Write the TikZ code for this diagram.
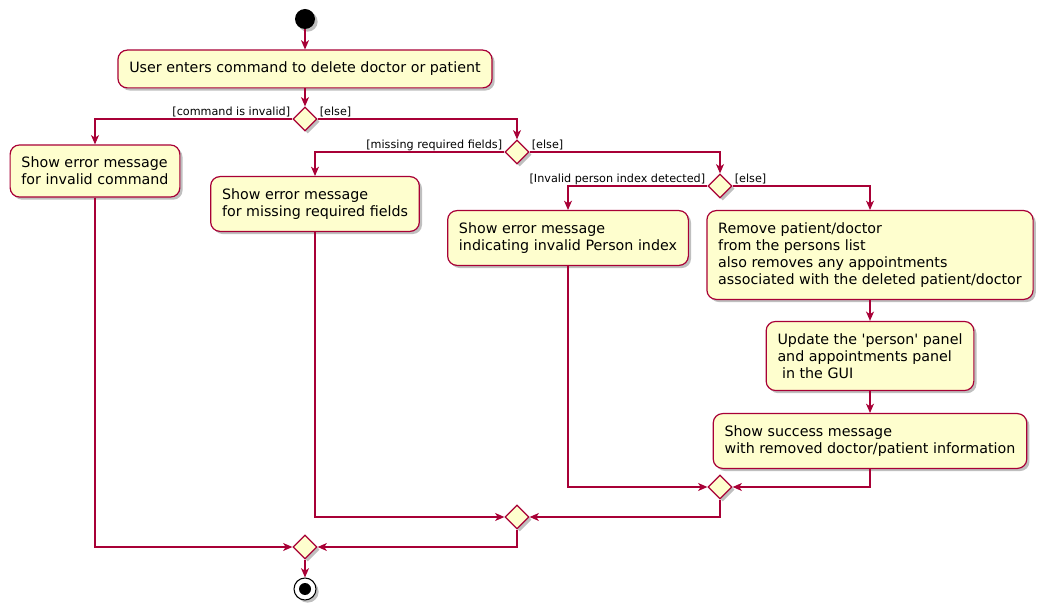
\documentclass[tikz,border=0pt]{standalone}
\usepackage{fontspec}
\setmainfont{DejaVu Sans}
\usetikzlibrary{arrows.meta,shapes.geometric,shadows}

\definecolor{umlred}{HTML}{A80036}
\definecolor{umlfill}{HTML}{FEFECE}

\tikzset{
  umlshadow/.style={drop shadow={shadow xshift=2pt, shadow yshift=-2pt, opacity=0.25, fill=black}},
  action/.style={draw=umlred, fill=umlfill, rounded corners=7pt, align=left,
    inner xsep=8.5pt, inner ysep=9pt, line width=0.9pt,
    font=\fontsize{10.7}{12.75}\selectfont, umlshadow},
  branch/.style={diamond, draw=umlred, fill=umlfill, line width=0.9pt,
    minimum width=18pt, minimum height=18pt, inner sep=0pt, umlshadow},
  guard/.style={font=\fontsize{8.4}{10}\selectfont, inner xsep=1.5pt, inner ysep=1pt},
  hv/.style={to path={-| (\tikztotarget) \tikztonodes}},
  vh/.style={to path={|- (\tikztotarget) \tikztonodes}}
}

\begin{document}
\begin{tikzpicture}[x=0.75pt,y=-0.75pt]
  \useasboundingbox (0,0) rectangle (1050,616);

  \node[circle, fill=black, minimum size=15pt, inner sep=0pt, umlshadow] (start) at (305,19) {};

  \begin{scope}[every node/.style={action}]
    \node (a1) at (305,69)  {User enters command to delete doctor or patient};
    \node (a2) at (95,171)  {Show error message\\for invalid command};
    \node (a3) at (315,204) {Show error message\\for missing required fields};
    \node (a4) at (568,238) {Show error message\\indicating invalid Person index};
    \node (a5) at (870,255) {Remove patient/doctor\\from the persons list\\also removes any appointments\\associated with the deleted patient/doctor};
    \node (a6) at (870,356) {Update the \textquotesingle person\textquotesingle{} panel\\and appointments panel\\\ in the GUI};
    \node (a7) at (870,441) {Show success message\\with removed doctor/patient information};
  \end{scope}

  \begin{scope}[every node/.style={branch}]
    \node (d1) at (305,119) {};
    \node (d2) at (517,152) {};
    \node (d3) at (720,186) {};
    \node (m1) at (720,487) {};
    \node (m2) at (517,517) {};
    \node (m3) at (305,547) {};
  \end{scope}

  \node[circle, draw=black, fill=white, line width=0.8pt, minimum size=16.5pt, inner sep=0pt, umlshadow] (stop) at (305,589) {};
  \node[circle, fill=black, minimum size=9pt, inner sep=0pt] (stopdot) at (stop) {};

  \begin{scope}[every node/.style={guard}]
    \node[anchor=south east] (g1a) at (d1.west) {[command is invalid]};
    \node[anchor=south west] (g1b) at (d1.east) {[else]};
    \node[anchor=south east] (g2a) at (d2.west) {[missing required fields]};
    \node[anchor=south west] (g2b) at (d2.east) {[else]};
    \node[anchor=south east] (g3a) at (d3.west) {[Invalid person index detected]};
    \node[anchor=south west] (g3b) at (d3.east) {[else]};
  \end{scope}

  \begin{scope}[every edge/.style={draw=umlred, line width=0.9pt, -{Stealth[length=7pt,width=6pt,inset=2pt]}}]
    \path (start) edge (a1);
    \path (a1) edge (d1);
    \path (d1.west) edge[hv] (a2.north);
    \path (d1.east) edge[hv] (d2.north);
    \path (d2.west) edge[hv] (a3.north);
    \path (d2.east) edge[hv] (d3.north);
    \path (d3.west) edge[hv] (a4.north);
    \path (d3.east) edge[hv] (a5.north);
    \path (a5) edge (a6);
    \path (a6) edge (a7);
    \path (a4.south) edge[vh] (m1.west);
    \path (a7.south) edge[vh] (m1.east);
    \path (a3.south) edge[vh] (m2.west);
    \path (m1.south) edge[vh] (m2.east);
    \path (a2.south) edge[vh] (m3.west);
    \path (m2.south) edge[vh] (m3.east);
    \path (m3) edge (stop);
  \end{scope}
\end{tikzpicture}
\end{document}
